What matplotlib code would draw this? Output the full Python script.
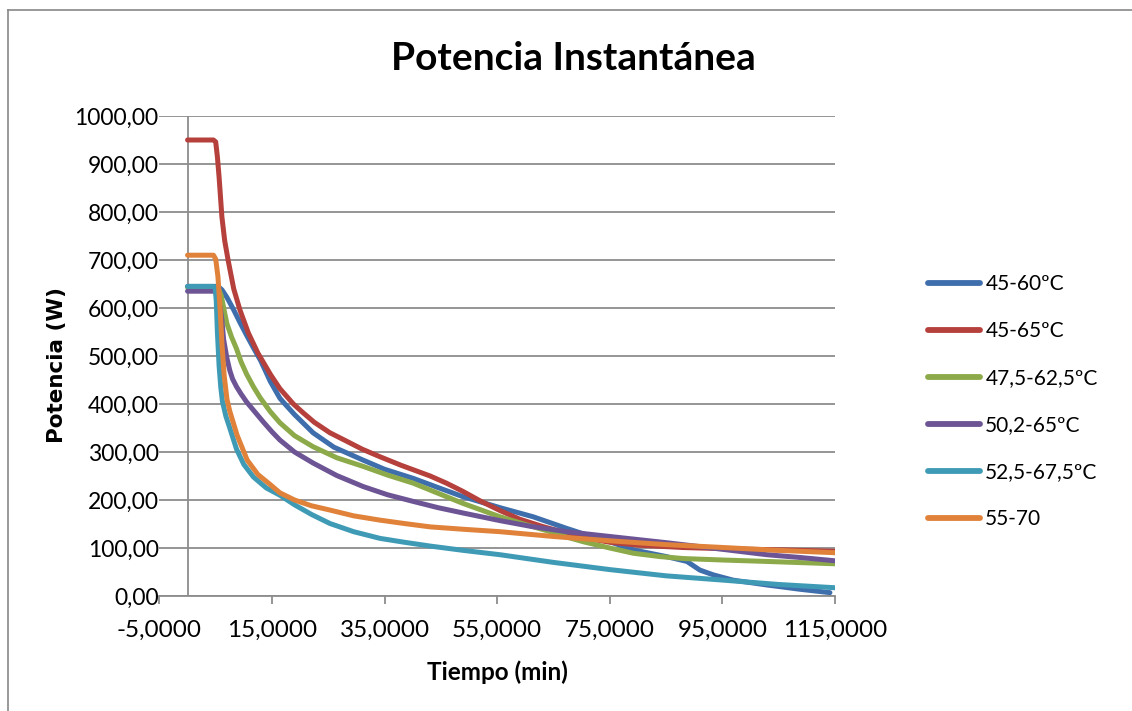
import matplotlib
matplotlib.use("Agg")
import matplotlib.pyplot as plt
from matplotlib.lines import Line2D
from matplotlib.ticker import FuncFormatter, MultipleLocator

# ---- data ----
labels = ["45-60ºC", "45-65ºC", "47,5-62,5ºC", "50,2-65ºC", "52,5-67,5ºC", "55-70"]
colors = ["#3F6EAC", "#B5403C", "#8CAA49", "#6D5595", "#3F9BB5", "#E0823A"]

x_4560 = [0, 5.0, 5.6, 6.1, 7.0, 8.2, 9.3, 10.5, 11.8, 13, 14.7, 16.4, 17.3, 19, 22.3, 26, 31.2, 35, 40.1,
          44, 48.9, 55.5, 61.4, 67.3, 72, 75, 79.2, 85.1, 88.7, 91, 93.4, 96.9, 102.9, 108.8, 114.1]
y_4560 = [645, 645, 643, 638, 622, 596, 570, 543, 515, 490, 447, 412, 400, 378, 340, 310, 283, 264, 245,
          228, 207, 184, 165, 141, 123, 113, 96, 82, 72, 54, 44, 33, 23, 14, 7]

x_4565 = [0, 4.6, 5.0, 5.3, 5.6, 6.1, 6.6, 7.2, 8.2, 9.3, 10.8, 12.5, 14.7, 16.4, 18.8, 20.5, 22.5, 25.3,
          28, 31, 34.2, 38, 43.1, 46, 48.9, 52, 55.5, 59, 63, 67.3, 71, 75, 80, 88, 97, 106, 115.3]
y_4565 = [950, 950, 946, 915, 873, 790, 740, 700, 640, 596, 548, 506, 462, 432, 400, 382, 362, 340,
          324, 306, 290, 272, 250, 235, 218, 198, 178, 160, 145, 131, 120, 112, 106, 101, 98, 96, 93]

x_4762 = [0, 5.0, 5.5, 6.0, 6.5, 7.0, 7.8, 8.7, 9.5, 10.5, 11.7, 12.9, 14.7, 16.4, 19, 22.3, 26.5, 31.2,
          35.5, 40.1, 44.5, 48.9, 55.5, 60, 64.4, 67.3, 70.3, 75, 79.2, 84, 88.1, 95, 102.9, 115.3]
y_4762 = [643, 643, 640, 625, 595, 567, 540, 515, 488, 462, 436, 413, 384, 361, 334, 311, 288, 270,
          252, 235, 214, 193, 165, 149, 134, 123, 113, 100, 89, 82, 78, 75, 72, 67]

x_5065 = [0, 4.6, 5.0, 5.4, 5.8, 6.1, 6.4, 7.0, 7.5, 8.0, 8.7, 9.5, 10.5, 12, 13.5, 15, 16.4, 19, 22.3,
          26.5, 31.2, 35.5, 40.1, 44.5, 48.9, 55.5, 61, 67.3, 75, 85.1, 95.2, 102.9, 109, 115.3]
y_5065 = [635, 635, 633, 622, 600, 575, 535, 495, 470, 452, 436, 421, 404, 383, 362, 342, 325, 300, 277,
          251, 228, 211, 197, 184, 173, 157, 145, 134, 124, 111, 97, 86, 80, 73]

x_5267 = [0, 4.6, 4.9, 5.1, 5.3, 5.6, 5.9, 6.2, 6.8, 7.5, 8.7, 10, 11.7, 14, 16.4, 19, 22, 25.3, 29.5,
          34.2, 38.5, 43.1, 49, 55.5, 65, 75, 85, 95.2, 105, 115.3]
y_5267 = [645, 645, 642, 615, 550, 480, 435, 405, 375, 350, 306, 274, 248, 225, 210, 190, 170, 151, 134,
          120, 112, 104, 95, 86, 70, 55, 42, 33, 24, 17]

x_5570 = [0, 4.6, 5.0, 5.4, 5.8, 6.1, 6.5, 7.0, 7.5, 8.8, 10.6, 12.5, 14.7, 16.4, 19, 22, 25.3, 29.5,
          34.2, 38.5, 43.1, 49, 55.5, 65, 75, 85, 95.2, 105, 115.3]
y_5570 = [710, 710, 702, 665, 595, 527, 460, 410, 385, 335, 283, 253, 232, 215, 200, 188, 179, 167,
          158, 151, 144, 139, 134, 124, 115, 107, 101, 95, 90]

series_x = [x_4560, x_4565, x_4762, x_5065, x_5267, x_5570]
series_y = [y_4560, y_4565, y_4762, y_5065, y_5267, y_5570]

x_ticks = [-5, 15, 35, 55, 75, 95, 115]
title = "Potencia Instantánea"
xlabel = "Tiempo (min)"
ylabel = "Potencia (W)"

plt.rcParams["font.family"] = ["Lato", "DejaVu Sans"]

W, H = 1132, 711
fig = plt.figure(figsize=(W / 100, H / 100), dpi=100)
ax = fig.add_axes([159.4 / W, 1 - 596 / H, (835 - 159.4) / W, (596 - 116) / H])

grid_c = "#8C8C8C"
for i in range(6):
    ax.plot(series_x[i], series_y[i], color=colors[i], lw=3.6, solid_capstyle="round",
            solid_joinstyle="round", label=labels[i], zorder=3 + i)

ax.set_xlim(-5, 115)
ax.set_ylim(0, 1000)
ax.set_xticks(x_ticks)
ax.yaxis.set_major_locator(MultipleLocator(100))
ax.xaxis.set_major_formatter(FuncFormatter(lambda v, p: f"{v:.4f}".replace(".", ",")))
ax.yaxis.set_major_formatter(FuncFormatter(lambda v, p: f"{v:.2f}".replace(".", ",")))

ax.grid(axis="y", color=grid_c, lw=1.3)
ax.set_axisbelow(True)
for s in ["left", "right", "top"]:
    ax.spines[s].set_visible(False)
ax.spines["bottom"].set_color(grid_c)
ax.spines["bottom"].set_linewidth(1.3)
ax.axvline(0, color=grid_c, lw=1.3, zorder=2)
ax.tick_params(axis="y", length=0, pad=0.5, labelsize=16.5)
ax.tick_params(axis="x", length=6, width=1.3, color=grid_c, direction="out", pad=11.5, labelsize=17.5)

fig.text(497 / W, 1 - 672 / H, xlabel, fontsize=17.5, fontweight="bold", ha="center", va="center")
fig.text(57 / W, 1 - 365 / H, ylabel, fontsize=15.5, fontweight="bold", ha="center", va="center",
         rotation=90, family=["DejaVu Sans"])
fig.text(573 / W, 1 - 58 / H, title, fontsize=28, fontweight="bold", ha="center", va="center")

leg = fig.legend(loc="upper left", bbox_to_anchor=(928 / W, 1 - 274 / H), frameon=False,
                 fontsize=15, handlelength=2.5, handletextpad=0.25, labelspacing=1.3,
                 borderpad=0, borderaxespad=0)
for h in leg.get_lines():
    h.set_linewidth(4.2)

# outer chart border (left and top visible)
fig.add_artist(Line2D([8 / W, 8 / W], [0, 1 - 10 / H], color="#888888", lw=1.2))
fig.add_artist(Line2D([8 / W, 1], [1 - 10 / H, 1 - 10 / H], color="#888888", lw=1.2))

fig.savefig("out.png", dpi=100)
